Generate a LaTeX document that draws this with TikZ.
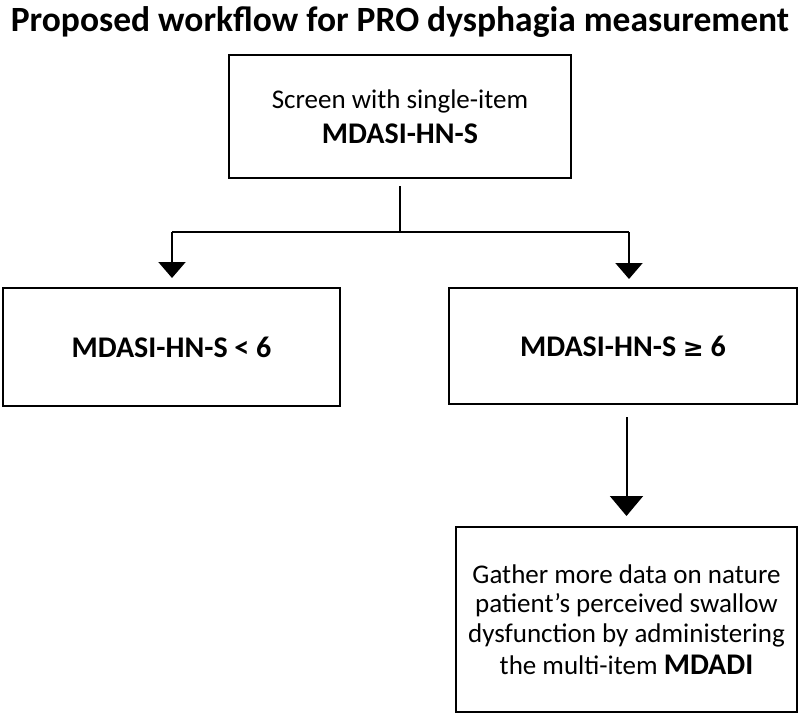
\documentclass[tikz,border=0pt]{standalone}
\usepackage{fontspec}
\setmainfont{Carlito}
\usetikzlibrary{arrows.meta}
\begin{document}
\begin{tikzpicture}[x=1pt,y=-1pt,
  box/.style={draw=black,line width=2pt,minimum width=#1,inner sep=0pt,align=center,font=\fontsize{27}{29.5}\selectfont},
  conn/.style={line width=2pt,draw=black},
  arr/.style={conn,-{Triangle[width=27pt,length=16pt]}},
  bigarr/.style={conn,-{Triangle[width=33pt,length=20pt]}}]
\useasboundingbox (0,0) rectangle (800,715);
\node (title) at (400,22) {\fontsize{35.5}{38}\selectfont\bfseries Proposed workflow for PRO dysphagia measurement};
\node[box=342pt,minimum height=123pt] (top) at (400,116.5) {Screen with single-item\\[5pt]{\fontsize{30}{33}\selectfont\bfseries MDASI-HN-S}};
\node[box=337pt,minimum height=118pt] (left) at (171.5,347) {\fontsize{30}{33}\selectfont\bfseries MDASI-HN-S < 6};
\node[box=348pt,minimum height=116pt] (right) at (623,346) {\fontsize{30}{33}\selectfont\bfseries MDASI-HN-S {\fontspec{DejaVu Sans}\fontsize{25}{33}\selectfont ≥} 6};
\node[box=341pt,minimum height=185pt] (bottom) at (626.5,619.5) {Gather more data on nature\\patient’s perceived swallow\\dysfunction by administering\\[3pt]the multi-item {\fontsize{30}{29.5}\selectfont\bfseries MDADI}};
\coordinate (j) at (400,232);
\coordinate (jl) at (172,232);
\coordinate (jr) at (629,232);
\draw[conn] ([yshift=-7pt]top.south) -- (j);
\draw[conn] (jl) -- (jr);
\draw[arr,shorten >=9pt] (jl) -- (jl |- left.north);
\draw[arr,shorten >=8pt] (jr) -- (jr |- right.north);
\draw[bigarr,shorten <=12pt,shorten >=10pt] (right.south -| bottom.north) -- (bottom.north);
\end{tikzpicture}
\end{document}
